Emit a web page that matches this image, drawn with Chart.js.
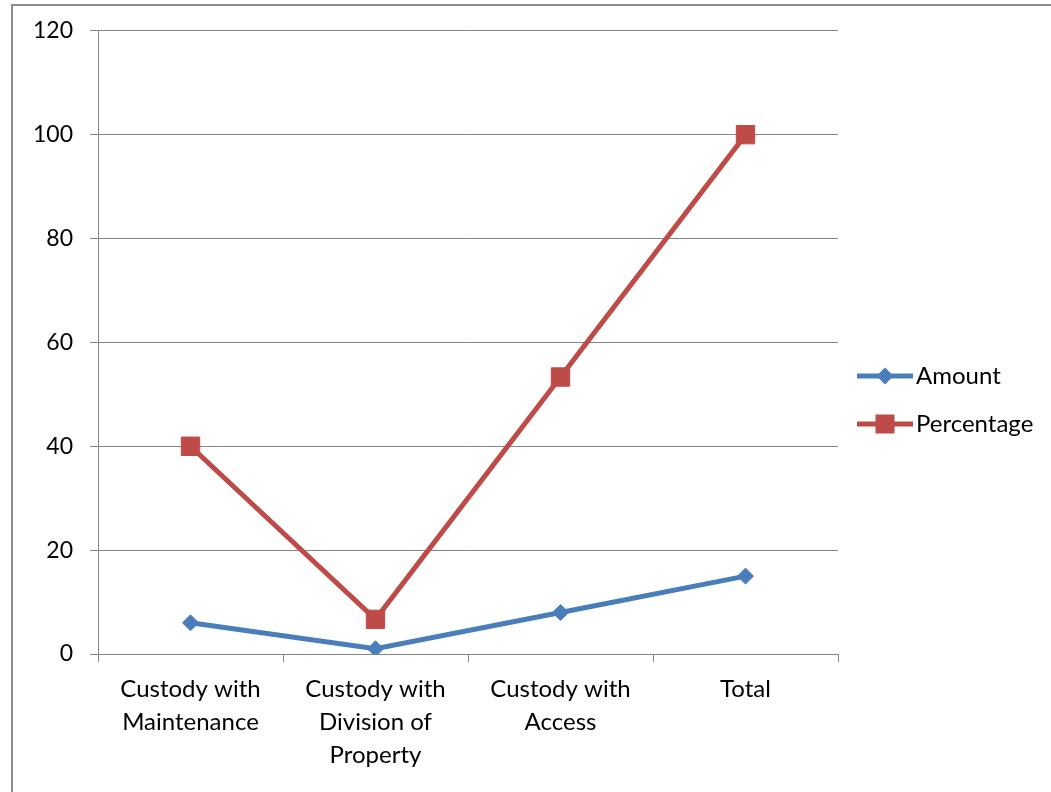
<!DOCTYPE html>
<html>
<head>
<meta charset="utf-8">
<script src="https://cdn.jsdelivr.net/npm/chart.js@4"></script>
<style>
  html, body { margin: 0; padding: 0; background: #ffffff; }
  #wrap { width: 1051px; height: 792px; position: relative; }
</style>
</head>
<body>
<div id="wrap"><canvas id="chart"></canvas></div>
<script>
const categories = [
  ['Custody with', 'Maintenance'],
  ['Custody with', 'Division of', 'Property'],
  ['Custody with', 'Access'],
  'Total'
];
const amountValues = [6, 1, 8, 15];
const percentageValues = [40, 6.67, 53.33, 100];
const yTicks = [0, 20, 40, 60, 80, 100, 120];

const FONT = 'Lato, "Open Sans", sans-serif';
const BLUE = '#4a7ebb';
const RED = '#be4b48';
const GRID = '#868686';

// outer frame and line-with-marker legend on the right
const framePlugin = {
  id: 'frame',
  afterDraw(chart) {
    const ctx = chart.ctx;
    ctx.save();
    ctx.strokeStyle = '#8c8c8c';
    ctx.lineWidth = 2;
    ctx.strokeRect(12, 5, 1100, 900);

    const items = chart.data.datasets;
    const x0 = 857, x1 = 913;
    const rows = [376, 424];
    items.forEach((ds, i) => {
      const y = rows[i];
      ctx.strokeStyle = ds.borderColor;
      ctx.lineWidth = 5;
      ctx.beginPath();
      ctx.moveTo(x0, y);
      ctx.lineTo(x1, y);
      ctx.stroke();
      const cx = (x0 + x1) / 2;
      ctx.fillStyle = ds.pointBackgroundColor;
      ctx.beginPath();
      if (ds.pointStyle === 'rectRot') {
        ctx.moveTo(cx - 8.5, y);
        ctx.lineTo(cx, y - 8.5);
        ctx.lineTo(cx + 8.5, y);
        ctx.lineTo(cx, y + 8.5);
        ctx.closePath();
      } else {
        ctx.rect(cx - 9.5, y - 9.5, 19, 19);
      }
      ctx.fill();
      ctx.fillStyle = '#000000';
      ctx.font = '24px ' + FONT;
      ctx.textBaseline = 'middle';
      ctx.textAlign = 'left';
      ctx.fillText(ds.label, 916, y);
    });
    ctx.restore();
  }
};

new Chart(document.getElementById('chart'), {
  type: 'line',
  data: {
    labels: categories,
    datasets: [
      {
        label: 'Amount',
        data: amountValues,
        borderColor: BLUE,
        backgroundColor: BLUE,
        pointBackgroundColor: BLUE,
        pointBorderColor: BLUE,
        borderWidth: 5,
        pointStyle: 'rectRot',
        pointRadius: 8,
        pointBorderWidth: 1,
        tension: 0
      },
      {
        label: 'Percentage',
        data: percentageValues,
        borderColor: RED,
        backgroundColor: RED,
        pointBackgroundColor: RED,
        pointBorderColor: RED,
        borderWidth: 5,
        pointStyle: 'rect',
        pointRadius: 13,
        pointBorderWidth: 1,
        tension: 0
      }
    ]
  },
  options: {
    responsive: true,
    maintainAspectRatio: false,
    animation: false,
    layout: { padding: { left: 0, right: 213, top: 30, bottom: 0 } },
    plugins: {
      legend: { display: false },
      tooltip: { enabled: false }
    },
    scales: {
      x: {
        offset: true,
        grid: {
          offset: true,
          drawOnChartArea: false,
          drawTicks: true,
          tickLength: 8,
          color: GRID,
          lineWidth: 1
        },
        border: { display: true, color: GRID, width: 1 },
        ticks: {
          color: '#000000',
          font: { family: FONT, size: 24, lineHeight: 1.375 },
          padding: 11,
          maxRotation: 0,
          autoSkip: false
        },
        afterFit(scale) { scale.height = 138; }
      },
      y: {
        min: 0,
        max: 120,
        afterBuildTicks(scale) { scale.ticks = yTicks.map(v => ({ value: v })); },
        grid: {
          color: GRID,
          lineWidth: 1,
          drawTicks: true,
          tickLength: 8
        },
        border: { display: true, color: GRID, width: 1 },
        ticks: {
          color: '#000000',
          font: { family: FONT, size: 23 },
          padding: 17
        },
        afterFit(scale) { scale.width = 98; }
      }
    }
  },
  plugins: [framePlugin]
});
</script>
</body>
</html>
